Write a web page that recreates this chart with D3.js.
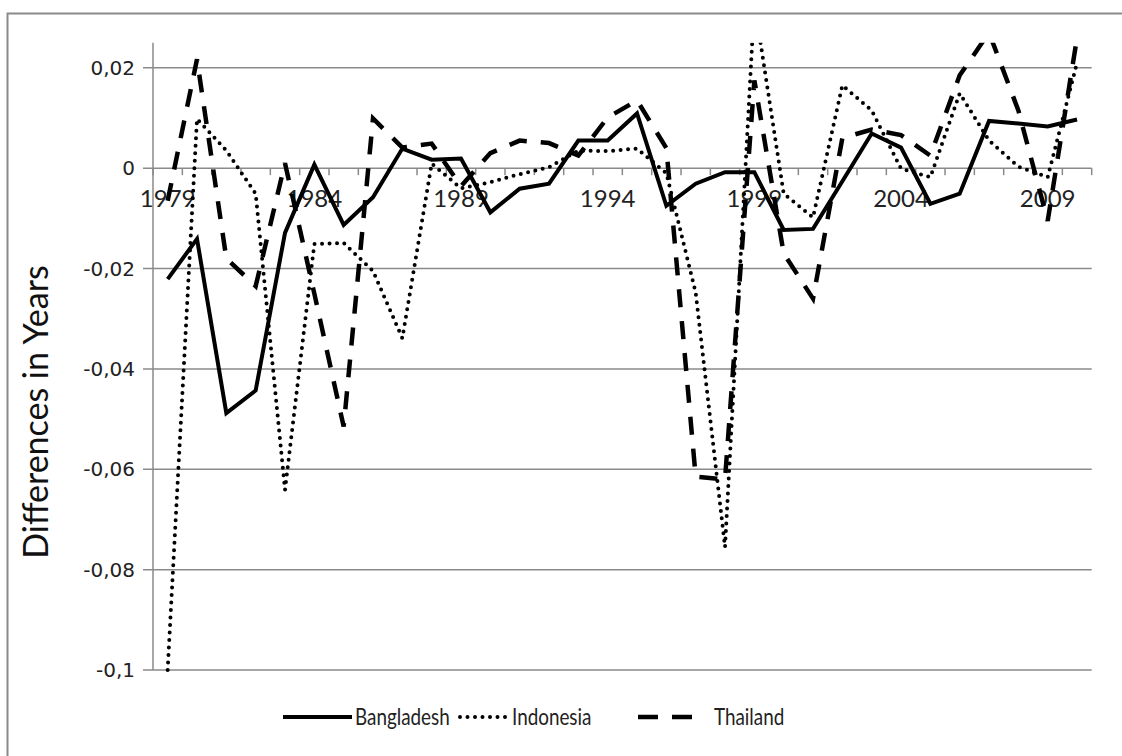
<!DOCTYPE html>
<html lang="en">
<head>
  <meta charset="UTF-8">
  <title>Differences in Years</title>
  <style>
    body { margin: 0; background: #fff; }
    svg { display: block; }
    .grid line { stroke: #8a8a8a; stroke-width: 1.5; }
    .tick-lab { font-family: Lato, sans-serif; fill: #222; }
  </style>
</head>
<body>
  <script src="https://d3js.org/d3.v7.min.js"></script>
  <svg id="chart" width="1122" height="756"></svg>
  <script>
    // data
    let years = [1979, 1980, 1981, 1982, 1983, 1984, 1985, 1986, 1987, 1988, 1989, 1990, 1991, 1992, 1993, 1994,
      1995, 1996, 1997, 1998, 1999, 2000, 2001, 2002, 2003, 2004, 2005, 2006, 2007, 2008, 2009, 2010]
    let labelYears = [1979, 1984, 1989, 1994, 1999, 2004, 2009]
    let yTicks = [-0.1, -0.08, -0.06, -0.04, -0.02, 0, 0.02]
    let bangladesh = [-0.0221, -0.0141, -0.0488, -0.0443, -0.0129, 0.0007, -0.0113, -0.0058, 0.0039, 0.0017, 0.0019, -0.0088,
      -0.0041, -0.0031, 0.0055, 0.0055, 0.0109, -0.0075, -0.0031, -0.0008, -0.0008, -0.0123, -0.0121, -0.0026,
      0.0069, 0.0041, -0.0071, -0.0051, 0.0094, 0.0089, 0.0083, 0.0097]
    let indonesia = [-0.1, 0.0098, 0.0035, -0.0051, -0.0641, -0.0151, -0.0149, -0.0205, -0.0339, 0.0009, -0.004, -0.0028,
      -0.0012, 0.0002, 0.0035, 0.0034, 0.0039, -0.001, -0.0248, -0.0755, 0.033, -0.0051, -0.0098, 0.0165,
      0.0115, -0.0001, -0.0018, 0.0149, 0.0055, 0.0003, -0.0018, 0.021]
    let thailand = [-0.0065, 0.0217, -0.018, -0.0235, 0.001, -0.025, -0.0515, 0.0099, 0.0041, 0.0049, -0.0036, 0.003,
      0.0055, 0.005, 0.0025, 0.0101, 0.0135, 0.004, -0.0615, -0.062, 0.0175, -0.017, -0.026, 0.006,
      0.0077, 0.0066, 0.0025, 0.0185, 0.027, 0.0115, -0.0105, 0.026]
    let seriesNames = ['Bangladesh', 'Indonesia', 'Thailand']

    let svg = d3.select('#chart')
    let pLeft = 153, pRight = 1091.7, pTop = 42.7, pBottom = 670

    // outer frame (only top and left edges are inside the picture)
    svg.append('rect')
      .attr('x', 7.5).attr('y', 13.5)
      .attr('width', 1200).attr('height', 800)
      .attr('fill', 'none')
      .attr('stroke', '#8a8a8a')
      .attr('stroke-width', 2)

    let x = d3.scaleBand().domain(years).range([pLeft, pRight])
    let y = d3.scaleLinear().domain([-0.1, 0.025]).range([pBottom, pTop])
    let cx = d => x(d) + x.bandwidth() / 2

    let loc = d3.formatLocale({ decimal: ',', thousands: '.', grouping: [3], currency: ['', ''], minus: '-' })
    let fmt = loc.format('~g')

    // gridlines + y axis
    let grid = svg.append('g').attr('class', 'grid')
    grid.selectAll('line')
      .data(yTicks)
      .enter()
      .append('line')
      .attr('x1', pLeft - 10)
      .attr('x2', pRight)
      .attr('y1', d => y(d))
      .attr('y2', d => y(d))
    svg.append('line')
      .attr('x1', pLeft).attr('x2', pLeft)
      .attr('y1', pTop).attr('y2', pBottom)
      .attr('stroke', '#8a8a8a').attr('stroke-width', 1.5)

    svg.append('g').selectAll('text')
      .data(yTicks)
      .enter()
      .append('text')
      .attr('x', 135)
      .attr('y', d => y(d))
      .attr('dy', '0.35em')
      .attr('text-anchor', 'end')
      .attr('font-family', 'DejaVu Sans, sans-serif')
      .attr('font-size', 20)
      .attr('fill', '#222')
      .text(d => fmt(d))

    // x axis ticks on the zero line
    let bounds = years.map(d => x(d)).concat([pRight])
    svg.append('g').selectAll('line')
      .data(bounds)
      .enter()
      .append('line')
      .attr('x1', d => d).attr('x2', d => d)
      .attr('y1', y(0)).attr('y2', y(0) + 7)
      .attr('stroke', '#8a8a8a').attr('stroke-width', 1.5)

    svg.append('g').selectAll('text')
      .data(labelYears)
      .enter()
      .append('text')
      .attr('class', 'tick-lab')
      .attr('x', d => cx(d))
      .attr('y', 207)
      .attr('text-anchor', 'middle')
      .attr('font-size', 24)
      .text(d => d)

    // y title
    svg.append('text')
      .attr('transform', 'translate(48, 412) rotate(-90)')
      .attr('text-anchor', 'middle')
      .attr('font-family', 'Lato, sans-serif')
      .attr('font-size', 34)
      .attr('fill', '#111')
      .text('Differences in Years')

    // lines
    svg.append('defs').append('clipPath')
      .attr('id', 'plot-clip')
      .append('rect')
      .attr('x', pLeft).attr('y', pTop)
      .attr('width', pRight - pLeft).attr('height', pBottom - pTop + 2)

    let styles = [
      { w: 4, dash: null, cap: 'butt' },
      { w: 4, dash: '0 7.5', cap: 'round' },
      { w: 4.5, dash: '18 14', cap: 'butt' }
    ]
    let allSeries = [bangladesh, indonesia, thailand]
    let line = d3.line()
      .x((d, i) => cx(years[i]))
      .y(d => y(d))

    let g = svg.append('g').attr('clip-path', 'url(#plot-clip)')
    allSeries.forEach((vals, k) => {
      g.append('path')
        .attr('d', line(vals))
        .attr('fill', 'none')
        .attr('stroke', '#000')
        .attr('stroke-width', styles[k].w)
        .attr('stroke-linecap', styles[k].cap)
        .attr('stroke-linejoin', 'miter')
        .attr('stroke-dasharray', styles[k].dash)
    })

    // legend (text squeezed a little, the original font is narrow)
    let legY = 717
    let legItems = [
      { x1: 283, x2: 352, tx: 355 },
      { x1: 460, x2: 506, tx: 512 },
      { x1: 638, x2: 692, tx: 714 }
    ]
    legItems.forEach((it, k) => {
      svg.append('line')
        .attr('x1', it.x1).attr('x2', it.x2)
        .attr('y1', legY).attr('y2', legY)
        .attr('stroke', '#000')
        .attr('stroke-width', styles[k].w)
        .attr('stroke-linecap', styles[k].cap)
        .attr('stroke-dasharray', k === 2 ? '20 14' : styles[k].dash)
      svg.append('text')
        .attr('transform', 'translate(' + it.tx + ',' + legY + ') scale(0.82, 1)')
        .attr('dy', '0.35em')
        .attr('font-family', 'Lato, sans-serif')
        .attr('font-size', 23)
        .attr('fill', '#222')
        .text(seriesNames[k])
    })
  </script>
</body>
</html>
